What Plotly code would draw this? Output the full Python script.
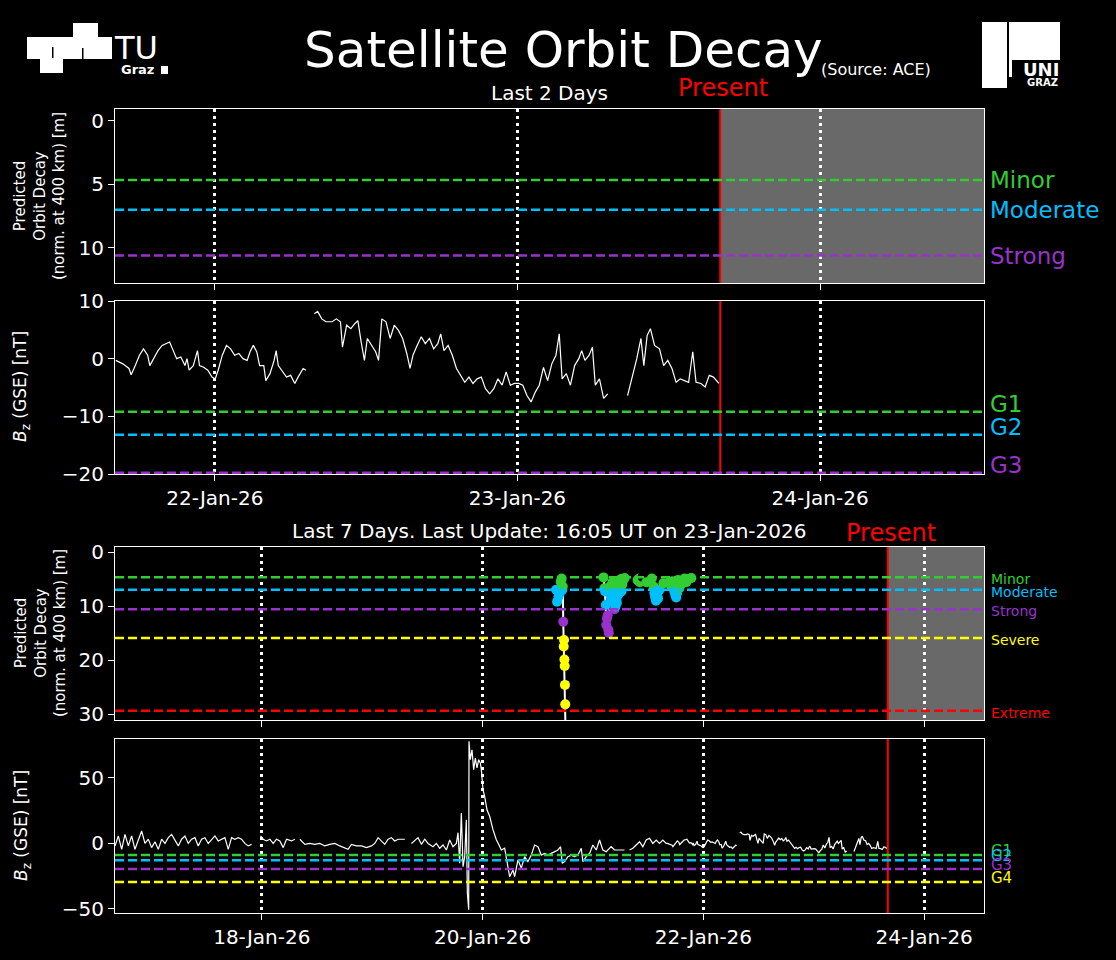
import pandas as pd
import plotly.graph_objects as go
from plotly.subplots import make_subplots

W, H = 1116, 960
PRESENT = pd.Timestamp("2026-01-23 16:05")
X_END = pd.Timestamp("2026-01-24 13:00")

# Bz (GSE) in nT over the last 2 days; times are hours relative to the last update
bz2_hours = [
    -47.94, -47.38, -46.89, -46.72, -46.39, -46.06, -45.74, -45.41, -45.24, -44.91,
    -44.59, -44.26, -43.93, -43.67, -43.44, -43.11, -42.78, -42.45, -42.29, -42.12,
    -41.79, -41.46, -41.30, -40.97, -40.64, -40.31, -40.05, -39.82, -39.49, -39.16,
    -38.83, -38.51, -38.18, -37.85, -37.52, -37.29, -37.03, -36.76, -36.53, -36.20,
    -36.04, -35.71, -35.38, -35.22, -35.05, -34.73, -34.40, -34.07, -33.74, -33.48,
    -33.08, -32.85, -32.50, -32.19, -31.93, -31.60, -31.27, -30.78, -30.45, -30.12,
    -29.96, -29.63, -29.30, -28.97, -28.74, -28.48, -28.22, -27.99, -27.66, -27.33,
    -27.10, -26.84, -26.51, -26.18, -25.85, -25.52, -25.19, -24.86, -24.60, -24.37,
    -24.04, -23.71, -23.39, -23.06, -22.73, -22.40, -22.17, -21.91, -21.58, -21.25,
    -20.92, -20.59, -20.26, -19.93, -19.61, -19.28, -18.95, -18.62, -18.29, -17.96,
    -17.63, -17.30, -16.98, -16.65, -16.32, -15.99, -15.66, -15.33, -15.00, -14.67,
    -14.35, -14.02, -13.69, -13.36, -13.03, -12.77, -12.54, -12.21, -11.88, -11.55,
    -11.22, -10.99, -10.73, -10.40, -10.14, -9.91, -9.58, -9.25, -8.92, -8.00,
    -7.35, -6.95, -6.62, -6.29, -6.06, -5.80, -5.54, -5.21, -4.82, -4.49,
    -4.16, -3.83, -3.50, -3.17, -2.84, -2.51, -2.18, -1.92, -1.53, -1.20,
    -0.87, -0.54, -0.11,
]
bz2_vals = [
    -0.3, -0.9, -1.7, -2.8, -1.2, 0.6, 1.7, 0.6, -1.2, 0.0,
    1.4, 2.3, 2.6, 2.9, 1.7, 0.0, 0.3, -1.2, 0.0, -2.0,
    -1.2, 1.4, -1.2, -1.5, -2.0, -3.2, -3.5, -2.0, 0.6, 2.3,
    1.7, 0.6, 0.9, 0.0, -0.3, 1.2, 2.3, 1.2, -1.2, -1.2,
    -3.8, -2.6, -0.3, 1.4, -1.2, -2.3, -3.2, -2.9, -4.3, -3.2,
    -1.7, -2.0, None, 7.8, 8.2, 6.9, 6.4, 6.4, 6.9, 6.4,
    2.0, 5.8, 5.2, 6.1, 6.6, 2.9, -0.3, 3.5, 2.3, 1.2,
    -0.3, 6.9, 6.4, 3.5, 5.8, 4.9, 3.5, 0.9, -1.7, 0.6,
    2.3, 3.8, 2.6, 3.5, 1.7, 2.6, 4.3, 1.4, 2.3, 0.6,
    -1.7, -2.9, -4.1, -3.2, -4.3, -3.5, -3.2, -5.2, -6.1, -5.2,
    -3.5, -4.6, -2.3, -4.6, -4.3, -4.3, -4.6, -6.4, -7.5, -5.8,
    -4.6, -1.5, -3.8, -0.9, 0.6, 4.3, -3.5, -2.6, -4.6, -1.2,
    0.0, 1.4, -0.3, 0.6, 2.0, -4.6, -3.5, -6.9, -6.1, None,
    -6.4, -2.9, 0.0, 3.5, -1.2, 4.0, 5.2, 2.3, 1.7, -1.2,
    -0.3, -1.7, -4.1, -3.5, -3.8, -4.1, 1.2, -4.1, -4.3, -4.9,
    -2.9, -3.2, -4.3,
]

# Bz (GSE) in nT for the earlier five days of the 7-day window
bz7_hours = [
    -168.00, -167.28, -166.55, -165.83, -165.10, -164.38, -163.66, -162.93, -162.21, -161.48,
    -160.76, -160.04, -159.31, -158.59, -157.86, -157.14, -156.42, -155.69, -154.97, -154.24,
    -153.52, -152.80, -152.07, -151.35, -150.62, -149.90, -149.18, -148.45, -147.73, -147.00,
    -146.28, -145.56, -144.83, -144.11, -143.38, -142.66, -141.94, -141.21, -140.49, -139.76,
    -139.04, -138.32, -137.50, -136.36, -135.78, -135.06, -134.33, -133.61, -132.89, -132.16,
    -131.44, -130.71, -129.63, -128.90, -128.20, -127.82, -126.73, -125.65, -124.56, -123.47,
    -122.39, -121.30, -120.22, -119.13, -118.04, -117.32, -116.60, -115.51, -114.42, -113.34,
    -112.25, -111.53, -110.80, -110.08, -109.36, -108.63, -107.91, -107.18, -106.46, -105.37,
    -105.01, -104.30, -103.56, -102.84, -102.12, -101.39, -100.67, -99.94, -98.86, -98.14,
    -97.41, -96.69, -95.96, -95.24, -94.52, -93.79, -93.43, -93.07, -92.71, -92.34,
    -91.98, -91.62, -91.40, -91.11, -91.04, -90.75, -90.39, -90.03, -89.67, -89.30,
    -88.94, -88.58, -88.36, -88.00, -87.64, -87.13, -86.55, -85.83, -85.10, -84.52,
    -84.02, -83.29, -82.57, -82.21, -81.48, -81.12, -80.40, -79.67, -78.95, -78.23,
    -77.50, -76.78, -76.05, -75.33, -74.61, -73.88, -73.16, -72.43, -71.71, -71.13,
    -70.77, -70.26, -69.54, -68.81, -68.09, -67.37, -66.64, -66.28, -65.56, -64.83,
    -64.11, -63.38, -62.66, -61.94, -61.21, -60.13, -59.40, -58.32, -57.23, -56.50,
    -56.14, -55.42, -54.70, -53.97, -53.25, -52.52, -51.80, -51.08, -50.35, -49.63,
    -48.90, -48.18,
]
bz7_vals = [
    -2.2, 5.4, -4.8, 6.6, -2.2, 5.4, -4.8, 2.9, 9.2, -0.3,
    2.9, -3.5, 1.0, -4.8, 2.9, -0.3, 4.1, 6.6, 1.6, -2.2,
    2.9, 5.4, -0.3, 2.9, 4.1, -2.2, 2.9, 4.1, -0.3, 2.9,
    5.4, 1.6, 2.9, 4.1, -4.8, 4.1, 2.9, 4.1, 2.9, -0.3,
    -2.2, -1.0, None, 5.4, 2.9, 1.6, 2.9, -0.3, 2.9, 1.6,
    -3.5, 2.9, 1.6, 2.9, None, 2.9, -1.0, -0.3, -1.0, -0.3,
    -2.2, -1.0, -0.3, -2.2, -3.5, -4.8, -1.0, -2.2, -2.2, -3.5,
    -2.2, -0.3, 4.1, 1.6, -1.0, 2.9, 4.1, 1.6, 2.9, 2.9,
    2.9, None, -0.3, 1.6, 4.1, -1.0, 2.9, -0.3, -2.8, -0.3,
    -4.0, -1.5, -5.3, 2.3, -2.8, -0.3, 7.9, -15.5, 22.9, -18.1,
    -10.4, 17.8, -38.2, -50.9, 77.6, 63.6, 71.2, 56.0, 64.9, 57.3,
    63.6, 61.1, 56.0, 40.7, 35.6, 25.4, 20.4, 10.2, 2.5, -1.5,
    -5.3, -4.0, -18.1, -25.7, -20.6, -25.7, -12.8, -19.2, -10.4, -14.2,
    -9.2, -1.5, -2.8, -9.2, -7.9, -9.2, -7.9, -6.6, -5.3, -2.8,
    -15.5, -14.2, -10.4, -9.2, -10.4, -9.2, -4.0, -14.2, -10.4, -7.9,
    -1.5, -5.3, 2.3, -5.3, -6.6, -2.8, -5.3, -5.3, -5.3, None,
    -5.3, -4.0, -1.5, 1.0, -2.8, 2.3, 3.6, -0.3, 2.3, -0.3,
    2.3, -0.3,
]

# predicted orbit decay (m, normalised at 400 km)
decay_hours = [
    -72.10, -71.90, -71.60, -71.30, -71.10, -70.90, -70.75, -70.65, -70.55, -70.45,
    -70.38, -70.30, -70.24, -70.18, -70.12, -70.06, -69.00,
    -61.80, -61.60, -61.45, -61.30, -61.20, -61.05, -60.90, -60.75, -60.65, -60.40,
    -60.20, -60.05, -59.90, -59.85, -59.75, -59.60, -59.40, -59.20, -59.05, -59.00,
    -58.90, -58.80, -58.60, -58.45, -58.30, -58.15, -58.00, -57.90, -57.70, -57.50,
    -57.20, -56.00,
    -54.40, -54.05, -53.90, -53.60, -53.30, -52.50, -51.30, -50.90, -50.75, -50.60,
    -50.40, -50.25, -50.10, -49.95, -49.60, -48.80, -47.50, -47.20, -46.80, -46.60,
    -46.40, -46.20, -46.00, -45.80, -45.60, -45.30, -45.00, -44.80, -44.50, -44.20,
    -43.80, -43.20, -42.70,
]
decay_vals = [
    7.0, 9.2, 8.3, 7.6, 5.5, 4.9, 7.0, 6.4, 12.9, 17.5,
    16.3, 19.9, 21.1, 24.6, 28.2, 32.8, None,
    4.7, 6.7, 7.3, 9.8, 13.5, 12.3, 11.7, 14.4, 15.0, 6.4,
    8.3, 9.0, 7.6, 5.6, 8.0, 6.1, 10.6, 10.1, 7.2, 8.9,
    9.4, 6.3, 7.9, 6.8, 5.8, 5.4, 5.0, 7.3, 6.0, 5.2,
    4.8, None,
    5.2, 4.9, 5.6, 5.0, 4.6, 5.6, 4.9, 6.4, 7.6, 8.3,
    9.0, 7.3, 8.0, 8.6, 7.0, 5.8, 5.6, 6.1, 5.4, 6.2,
    7.3, 7.9, 8.4, 7.6, 5.2, 6.7, 6.0, 5.8, 5.3, 4.9,
    5.6, 5.0, 4.8,
]

decay_levels = [4.65, 7.0, 10.6, 15.9, 29.4]
decay_names = ["Minor", "Moderate", "Strong", "Severe", "Extreme"]
g_levels = [-9.2, -13.2, -19.8, -29.8]
g_names = ["G1", "G2", "G3", "G4"]
level_colors = ["#32CD32", "#00BFFF", "#9932CC", "#FFFF00", "#FF0000"]

days2 = ["2026-01-22", "2026-01-23", "2026-01-24"]
days7 = ["2026-01-18", "2026-01-20", "2026-01-22", "2026-01-24"]


def px(x):
    return x / W


def py(y):
    return 1 - y / H


def to_time(hours):
    return [PRESENT + pd.Timedelta(hours=h) for h in hours]


def decay_color(v):
    if v is None:
        return "black"
    c = "black"
    for lev, col in zip(decay_levels, level_colors):
        if v >= lev:
            c = col
    return c


fig = make_subplots(rows=4, cols=1)

fig.add_trace(go.Scatter(x=to_time(bz2_hours), y=bz2_vals, mode="lines",
                         line=dict(color="white", width=1.2)), row=2, col=1)
fig.add_trace(go.Scatter(x=to_time(decay_hours), y=decay_vals, mode="lines+markers",
                         line=dict(color="white", width=2),
                         marker=dict(color=[decay_color(v) for v in decay_vals], size=10)),
              row=3, col=1)
fig.add_trace(go.Scatter(x=to_time(bz7_hours + bz2_hours), y=bz7_vals + bz2_vals, mode="lines",
                         line=dict(color="white", width=1.2)), row=4, col=1)

# panel geometry (pixels from the top)
panels = [(109, 283), (301, 474), (547, 720), (739, 913)]
for i, (top, bot) in enumerate(panels, start=1):
    fig.update_xaxes(domain=[px(115), px(984)], row=i, col=1)
    fig.update_yaxes(domain=[py(bot), py(top)], row=i, col=1)

axis_style = dict(showline=True, mirror=True, linecolor="white", linewidth=1.2,
                  ticks="outside", ticklen=6, tickwidth=1.2, tickcolor="white",
                  tickfont=dict(size=20, color="white"), zeroline=False, automargin=False)
fig.update_xaxes(**axis_style, type="date", showgrid=True, gridcolor="white",
                 griddash="2.5px,4.5px", gridwidth=2.5)
fig.update_yaxes(**axis_style, showgrid=False)

for r in (1, 2):
    fig.update_xaxes(range=[PRESENT - pd.Timedelta(hours=48), X_END], tickvals=days2,
                     tickformat="%d-%b-%y", row=r, col=1)
for r in (3, 4):
    fig.update_xaxes(range=[PRESENT - pd.Timedelta(hours=168), X_END], tickvals=days7,
                     tickformat="%d-%b-%y", row=r, col=1)
fig.update_xaxes(showticklabels=False, row=1, col=1)
fig.update_xaxes(showticklabels=False, row=3, col=1)

fig.update_yaxes(range=[12.76, -0.94], tickvals=[0, 5, 10], row=1, col=1)
fig.update_yaxes(range=[-20, 10], tickvals=[-20, -10, 0, 10], row=2, col=1)
fig.update_yaxes(range=[31.1, -0.93], tickvals=[0, 10, 20, 30], row=3, col=1)
fig.update_yaxes(range=[-53.4, 79.4], tickvals=[-50, 0, 50], row=4, col=1)

# future (grey) region and the "present" marker
for r in (1, 3):
    fig.add_vrect(x0=PRESENT, x1=X_END, fillcolor="#696969", opacity=1, line_width=0,
                  layer="below", row=r, col=1, exclude_empty_subplots=False)
for r in (1, 2, 3, 4):
    fig.add_vline(x=PRESENT, line=dict(color="red", width=2), row=r, col=1,
                  exclude_empty_subplots=False)

dash = "9px,4px"
# threshold lines and labels
for lev, name, col in zip(decay_levels[:3], decay_names[:3], level_colors[:3]):
    fig.add_hline(y=lev, line=dict(color=col, width=2.5, dash=dash), row=1, col=1,
                  exclude_empty_subplots=False)
    fig.add_annotation(x=px(988), y=lev, xref="paper", yref="y", text=name, showarrow=False,
                       xanchor="left", yanchor="middle", font=dict(size=23, color=col))
for lev, name, col in zip(g_levels[:3], g_names[:3], level_colors[:3]):
    fig.add_hline(y=lev, line=dict(color=col, width=2.5, dash=dash), row=2, col=1)
    fig.add_annotation(x=px(988), y=lev, xref="paper", yref="y2", text=name, showarrow=False,
                       xanchor="left", yanchor="middle", yshift=8, font=dict(size=23, color=col))
for lev, name, col in zip(decay_levels, decay_names, level_colors):
    fig.add_hline(y=lev, line=dict(color=col, width=2.5, dash=dash), row=3, col=1)
    fig.add_annotation(x=px(989), y=lev, xref="paper", yref="y3", text=name, showarrow=False,
                       xanchor="left", yanchor="middle", yshift=-2, font=dict(size=14, color=col))
for lev, name, col in zip(g_levels, g_names, level_colors):
    fig.add_hline(y=lev, line=dict(color=col, width=2.5, dash=dash), row=4, col=1)
    fig.add_annotation(x=px(989), y=lev, xref="paper", yref="y4", text=name, showarrow=False,
                       xanchor="left", yanchor="middle", yshift=4, font=dict(size=15, color=col))

# titles and labels
texts = [
    ("Satellite Orbit Decay", 563, 50, 50, "white", "center"),
    ("(Source: ACE)", 819, 69, 16, "white", "left"),
    ("Last 2 Days", 549, 93, 20, "white", "center"),
    ("Present", 723, 88, 24, "red", "center"),
    ("Last 7 Days. Last Update: 16:05 UT on 23-Jan-2026", 549, 531, 20, "white", "center"),
    ("Present", 891, 533, 24, "red", "center"),
]
for t, x, y, s, c, anc in texts:
    fig.add_annotation(x=px(x), y=py(y), xref="paper", yref="paper", text=t, showarrow=False,
                       xanchor=anc, yanchor="middle", font=dict(size=s, color=c))

ylabels = [
    ("Predicted<br>Orbit Decay<br>(norm. at 400 km) [m]", 40, 196, 15),
    ("<i>B</i><sub>z</sub> (GSE) [nT]", 22, 387, 17),
    ("Predicted<br>Orbit Decay<br>(norm. at 400 km) [m]", 40, 633, 15),
    ("<i>B</i><sub>z</sub> (GSE) [nT]", 22, 826, 17),
]
for t, x, y, s in ylabels:
    fig.add_annotation(x=px(x), y=py(y), xref="paper", yref="paper", text=t, showarrow=False,
                       textangle=-90, xanchor="center", yanchor="middle",
                       font=dict(size=s, color="white"))

# TU Graz logo
for x0, y0, x1, y1 in [(27, 37, 112, 59), (73, 23, 98, 37), (40, 59, 63, 73), (161, 66, 168, 74)]:
    fig.add_shape(type="rect", xref="paper", yref="paper", x0=px(x0), x1=px(x1),
                  y0=py(y1), y1=py(y0), fillcolor="white", line_width=0)
for x0, y0, x1, y1 in [(52, 47, 53.5, 58), (82, 48, 83.5, 59)]:
    fig.add_shape(type="rect", xref="paper", yref="paper", x0=px(x0), x1=px(x1),
                  y0=py(y1), y1=py(y0), fillcolor="black", line_width=0)
fig.add_annotation(x=px(112), y=py(48), xref="paper", yref="paper", text="TU", showarrow=False,
                   xanchor="left", yanchor="middle", font=dict(size=32, color="white"))
fig.add_annotation(x=px(119), y=py(69), xref="paper", yref="paper", text="<b>Graz</b>",
                   showarrow=False, xanchor="left", yanchor="middle", font=dict(size=13, color="white"))

# Uni Graz logo
for x0, y0, x1, y1 in [(982, 22, 1007, 88), (1009, 22, 1060, 60), (1009, 60, 1012, 77)]:
    fig.add_shape(type="rect", xref="paper", yref="paper", x0=px(x0), x1=px(x1),
                  y0=py(y1), y1=py(y0), fillcolor="white", line_width=0)
fig.add_annotation(x=px(1041), y=py(69), xref="paper", yref="paper", text="<b>UNI</b>",
                   showarrow=False, xanchor="center", yanchor="middle", font=dict(size=18, color="white"))
fig.add_annotation(x=px(1042), y=py(82), xref="paper", yref="paper", text="<b>GRAZ</b>",
                   showarrow=False, xanchor="center", yanchor="middle", font=dict(size=10, color="white"))

fig.update_layout(
    width=W, height=H, margin=dict(l=0, r=0, t=0, b=0, pad=0),
    paper_bgcolor="black", plot_bgcolor="black",
    font=dict(family="DejaVu Sans", color="white"),
    showlegend=False,
)

fig.write_html("out.html", config={"displayModeBar": False}, post_script=(
    "document.body.style.margin='0px';"
    "document.body.style.backgroundColor='black';"
    "document.body.style.overflow='hidden';"
))
